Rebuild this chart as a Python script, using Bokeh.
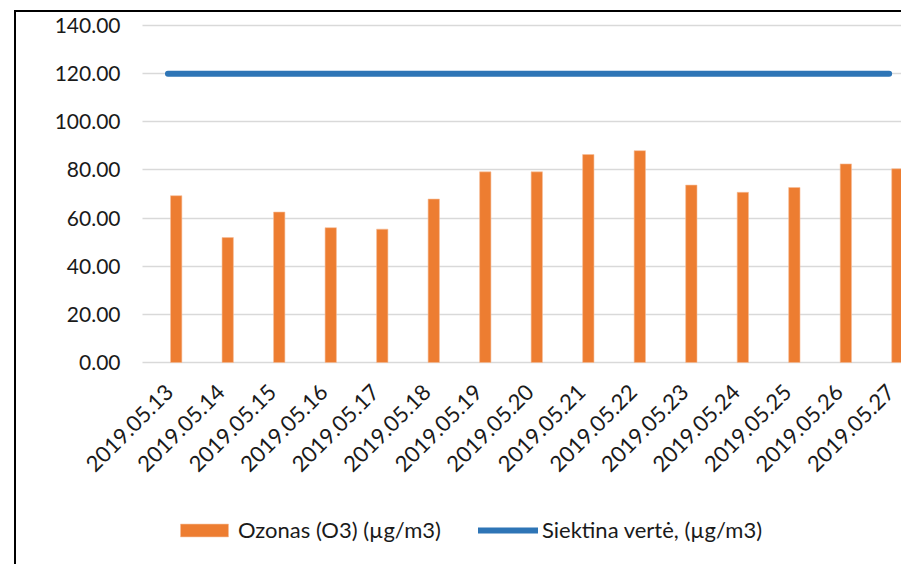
from bokeh.plotting import figure
from bokeh.models import (ColumnDataSource, Range1d, FixedTicker, Legend, LegendItem,
                          NumeralTickFormatter, InlineStyleSheet)
from bokeh.transform import dodge
from bokeh.embed import file_html
from bokeh.resources import INLINE
import math

dates = ["2019.05.13", "2019.05.14", "2019.05.15", "2019.05.16", "2019.05.17",
         "2019.05.18", "2019.05.19", "2019.05.20", "2019.05.21", "2019.05.22",
         "2019.05.23", "2019.05.24", "2019.05.25", "2019.05.26", "2019.05.27"]
ozone = [69.3, 51.9, 62.5, 56.0, 55.4, 67.9, 79.2, 79.2, 86.4, 88.0,
         73.7, 70.7, 72.7, 82.5, 80.5]
target = [120.0] * 15
y_ticks = [0, 20, 40, 60, 80, 100, 120, 140]

idx = list(range(len(dates)))
src = ColumnDataSource(dict(x=idx, ozone=ozone, target=target))

FONT = "Lato"
TXT = "#1a1a1a"

# plot-area limits in data units (category axis starts half a band left of first bar)
AREA_X0, AREA_X1 = -0.654, 14.08
LABEL_SHIFT = -0.13  # rotated labels end slightly left of the bar centre

p = figure(width=901, height=564, output_backend="svg", toolbar_location=None,
           x_range=Range1d(-3.411, AREA_X1), y_range=Range1d(-83.92, 150.39),
           min_border_left=0, min_border_right=0, min_border_top=0,
           min_border_bottom=0)
p.outline_line_color = None
p.background_fill_color = "white"
p.border_fill_color = "white"
p.stylesheets = [InlineStyleSheet(css=(
    ":host::after { content: ''; position: absolute; left: 14px; top: 10px; "
    "right: 0; bottom: 0; border-left: 2px solid #000; border-top: 2px solid #000; "
    "pointer-events: none; }"))]

p.xgrid.grid_line_color = None
yg = p.ygrid[0]
yg.ticker = FixedTicker(ticks=y_ticks)
if "cross_bounds" in yg.properties():
    yg.cross_bounds = (AREA_X0, AREA_X1)
    yg.grid_line_color = "#D9D9D9"
    yg.grid_line_width = 1.6
else:
    yg.grid_line_color = None
    p.segment(x0=[AREA_X0] * len(y_ticks), x1=[AREA_X1] * len(y_ticks),
              y0=y_ticks, y1=y_ticks, line_color="#D9D9D9", line_width=1.6)

bars = p.vbar(x="x", top="ozone", width=0.22, source=src,
              fill_color="#ED7D31", line_color="#F6BE98", line_width=0.6)
line = p.line(x=dodge("x", -0.16), y="target", source=src,
              line_color="#2E75B6", line_width=6, line_cap="round")

ya = p.yaxis[0]
ya.fixed_location = AREA_X0
ya.ticker = FixedTicker(ticks=y_ticks)
ya.formatter = NumeralTickFormatter(format="0.00")
ya.axis_line_color = None
ya.major_tick_line_color = None
ya.minor_tick_line_color = None
ya.major_tick_out = 0
ya.major_tick_in = 0
ya.major_label_standoff = 22
ya.major_label_text_font = FONT
ya.major_label_text_font_size = "21px"
ya.major_label_text_color = TXT

x_ticks = [i + LABEL_SHIFT for i in idx]
xa = p.xaxis[0]
xa.fixed_location = 0
xa.ticker = FixedTicker(ticks=x_ticks)
xa.major_label_overrides = {t: d for t, d in zip(x_ticks, dates)}
xa.major_label_orientation = math.pi / 4
xa.axis_line_color = None
xa.major_tick_line_color = None
xa.minor_tick_line_color = None
xa.major_tick_out = 0
xa.major_tick_in = 0
xa.major_label_standoff = 26
xa.major_label_text_font = FONT
xa.major_label_text_font_size = "22px"
xa.major_label_text_color = TXT

legend = Legend(items=[LegendItem(label="Ozonas (O3) (µg/m3)", renderers=[bars]),
                       LegendItem(label="Siektina vertė, (µg/m3)", renderers=[line])],
                orientation="horizontal", location=(174, 21))
legend.border_line_color = None
legend.background_fill_alpha = 0
legend.margin = 0
legend.padding = 0
legend.spacing = 37
legend.glyph_width = 60
legend.glyph_height = 16
legend.label_standoff = 4
legend.label_text_font = FONT
legend.label_text_font_size = "22px"
legend.label_text_color = TXT
p.add_layout(legend, "center")

open("out.html", "w").write(file_html(p, INLINE))
